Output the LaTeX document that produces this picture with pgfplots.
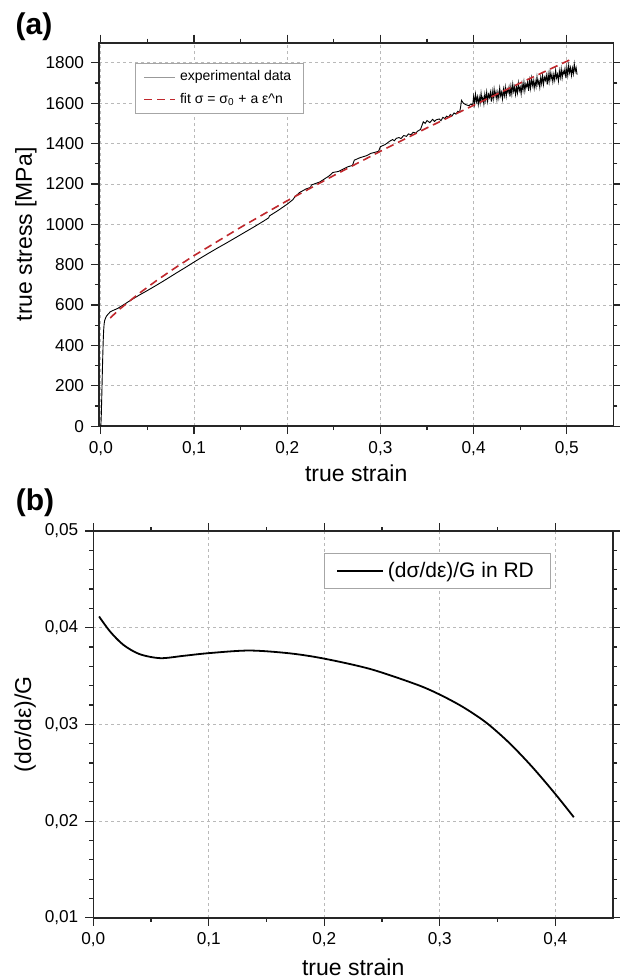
\documentclass[border=0pt]{standalone}
\usepackage{fontspec}
\setmainfont{Liberation Sans}
\usepackage{pgfplots}
\pgfplotsset{compat=1.18}

\definecolor{fitred}{RGB}{192,40,45}
\definecolor{gridgray}{RGB}{185,185,185}

\pgfplotsset{
  panel/.style={
    scale only axis,
    axis line style={line width=0.8pt, black!85},
    tick align=outside,
    major tick length=4pt,
    minor tick length=2pt,
    tick style={line width=0.6pt, black!85},
    grid=major,
    major grid style={gridgray, dash pattern=on 1.5pt off 1.5pt, line width=0.4pt},
    tick label style={font=\fontsize{8.6}{10}\selectfont},
    label style={font=\fontsize{11.5}{13}\selectfont},
    scaled ticks=false,
    /pgf/number format/assume math mode=true,
    /pgf/number format/use comma,
    xticklabel style={/pgf/number format/fixed, /pgf/number format/fixed zerofill, /pgf/number format/precision=1},
  }
}

\begin{document}
\begin{tikzpicture}
\path[use as bounding box] (0,0) rectangle (310pt,-490pt);

\node[font=\bfseries\fontsize{15}{17}\selectfont] at (17pt,-13.5pt) {(a)};
\node[font=\bfseries\fontsize{15}{17}\selectfont] at (17.5pt,-251.5pt) {(b)};

% (a) true stress vs true strain
\begin{axis}[panel,
  at={(49.5pt,-21.35pt)}, anchor=north west,
  width=257.2pt, height=191.7pt,
  xmin=-0.002, xmax=0.55, ymin=0, ymax=1900,
  xtick={0,0.1,...,0.5}, ytick={0,200,...,1800},
  minor x tick num=1, minor y tick num=1,
  yticklabel style={/pgf/number format/1000 sep={}},
  xlabel={true strain}, ylabel={true stress [MPa]},
  xlabel style={at={(axis description cs:0.5,-0.1226)}, anchor=center},
  ylabel style={at={(axis description cs:-0.142,0.5)}, anchor=center},
  legend style={at={(axis description cs:0.070,0.946)}, anchor=north west,
    draw=gray!70, line width=0.4pt, font=\fontsize{7}{8}\selectfont,
    inner xsep=4pt, inner ysep=1.5pt, row sep=0.5pt, cells={anchor=west}},
  legend image code/.code={\draw[#1] (0pt,0pt) -- (15.5pt,0pt);},
]
\addplot[black, line width=0.45pt, forget plot] coordinates {
(0,0)(0.0005,60)(0.001,150)(0.0015,250)(0.002,340)(0.0025,420)(0.003,475)
(0.0035,505)(0.004,522)(0.005,535)(0.006,545)(0.008,556)(0.010,566)(0.012,571)
(0.015,577)(0.018,583)(0.020,589)(0.025,603)(0.030,618)(0.035,632)(0.040,646)
(0.050,672)(0.060,699)(0.070,727)(0.080,756)(0.090,784)(0.100,813)(0.106,830)
(0.115,855)(0.125,882)(0.135,908)(0.145,935)(0.155,962)(0.165,989)(0.175,1017)
(0.180,1032)(0.181,1042)(0.190,1068)(0.200,1100)(0.206,1122)(0.208,1135)
(0.213,1157)(0.220,1175)(0.225,1183)(0.226,1195)(0.235,1210)(0.245,1240)
(0.249,1257)(0.255,1262)(0.265,1285)(0.270,1292)(0.272,1318)(0.278,1330)
(0.285,1340)(0.290,1352)(0.295,1358)(0.298,1362)(0.300,1385)(0.305,1395)
(0.310,1412)(0.313,1420)(0.315,1414)(0.317,1426)(0.320,1430)(0.322,1425)
(0.325,1440)(0.328,1436)(0.330,1448)(0.333,1444)(0.335,1456)(0.338,1452)
(0.340,1462)(0.343,1470)(0.346,1508)(0.348,1500)(0.350,1514)(0.353,1504)
(0.356,1520)(0.358,1510)(0.360,1518)(0.363,1522)(0.365,1514)(0.367,1530)
(0.369,1524)(0.371,1536)(0.373,1530)(0.375,1544)(0.377,1538)(0.379,1552)
(0.381,1546)(0.383,1560)(0.385,1556)(0.386,1580)(0.387,1614)(0.389,1600)
(0.392,1592)(0.395,1588)(0.397,1596)(0.399,1590)
(0.400,1634)(0.401,1595)(0.402,1645)(0.403,1608)(0.404,1632)(0.405,1593)
(0.406,1630)(0.407,1601)(0.408,1650)(0.409,1611)(0.410,1630)(0.411,1596)
(0.412,1645)(0.413,1613)(0.414,1655)(0.415,1609)(0.416,1644)(0.417,1628)
(0.418,1655)(0.419,1608)(0.420,1659)(0.421,1620)(0.422,1670)(0.423,1633)
(0.424,1657)(0.425,1618)(0.426,1655)(0.427,1626)(0.428,1675)(0.429,1636)
(0.430,1655)(0.431,1621)(0.432,1670)(0.433,1638)(0.434,1680)(0.435,1634)
(0.436,1669)(0.437,1653)(0.438,1680)(0.439,1633)(0.440,1684)(0.441,1645)
(0.442,1695)(0.443,1658)(0.444,1682)(0.445,1643)(0.446,1680)(0.447,1651)
(0.448,1700)(0.449,1661)(0.450,1680)(0.451,1646)(0.452,1696)(0.453,1664)
(0.454,1706)(0.455,1661)(0.456,1696)(0.457,1681)(0.458,1707)(0.459,1661)
(0.460,1713)(0.461,1674)(0.462,1724)(0.463,1687)(0.464,1712)(0.465,1674)
(0.466,1710)(0.467,1682)(0.468,1731)(0.469,1693)(0.470,1712)(0.471,1678)
(0.472,1728)(0.473,1696)(0.474,1738)(0.475,1693)(0.476,1728)(0.477,1713)
(0.478,1739)(0.479,1693)(0.480,1745)(0.481,1706)(0.482,1756)(0.483,1719)
(0.484,1744)(0.485,1706)(0.486,1742)(0.487,1714)(0.488,1763)(0.489,1725)
(0.490,1744)(0.491,1710)(0.492,1760)(0.493,1728)(0.494,1770)(0.495,1725)
(0.496,1760)(0.497,1745)(0.498,1771)(0.499,1725)(0.500,1777)(0.501,1738)
(0.502,1788)(0.503,1751)(0.504,1776)(0.505,1738)(0.506,1774)(0.507,1746)
(0.508,1795)(0.509,1757)(0.510,1776)(0.511,1742)
};
\addlegendimage{gray!80, line width=0.5pt}
\addlegendentry{experimental data}
\addplot[fitred, line width=0.8pt, dash pattern=on 4pt off 2.5pt] coordinates {
(0.01,536)(0.02,579)(0.04,654)(0.06,722)(0.08,785)(0.10,845)(0.15,985)
(0.20,1117)(0.25,1242)(0.30,1362)(0.35,1478)(0.40,1590)(0.45,1700)(0.507,1823)
};
\addlegendentry{fit σ = σ\textsubscript{0} + a ε\textasciicircum n}
\end{axis}

% (b) normalised hardening rate
\begin{axis}[panel,
  at={(46.65pt,-265.5pt)}, anchor=north west,
  width=259.9pt, height=193.4pt,
  xmin=0, xmax=0.45, ymin=0.01, ymax=0.05,
  xtick={0,0.1,...,0.4}, ytick={0.01,0.02,0.03,0.04,0.05},
  minor x tick num=1, minor y tick num=4,
  yticklabel style={/pgf/number format/fixed, /pgf/number format/fixed zerofill, /pgf/number format/precision=2},
  xlabel={true strain}, ylabel={(dσ/dε)/G},
  xlabel style={at={(axis description cs:0.5,-0.1275)}, anchor=center},
  ylabel style={at={(axis description cs:-0.131,0.5)}, anchor=center},
  legend style={at={(axis description cs:0.444,0.942)}, anchor=north west,
    draw=gray!70, line width=0.4pt, font=\fontsize{10.5}{12}\selectfont,
    inner xsep=6pt, inner ysep=2pt, cells={anchor=west}},
  legend image code/.code={\draw[#1] (0pt,0pt) -- (22.8pt,0pt);},
]
\addplot[black, line width=0.9pt, smooth] coordinates {
(0.005,0.04116)(0.0145,0.03961)(0.026,0.03823)(0.040,0.03727)(0.058,0.03685)
(0.078,0.03709)(0.100,0.03737)(0.135,0.03764)(0.170,0.03735)(0.200,0.03680)
(0.240,0.03572)(0.280,0.03412)(0.300,0.03308)(0.320,0.03180)(0.340,0.03020)
(0.360,0.02810)(0.380,0.02560)(0.400,0.02280)(0.416,0.02040)
};
\addlegendentry{(dσ/dε)/G in RD}
\end{axis}
\end{tikzpicture}
\end{document}
